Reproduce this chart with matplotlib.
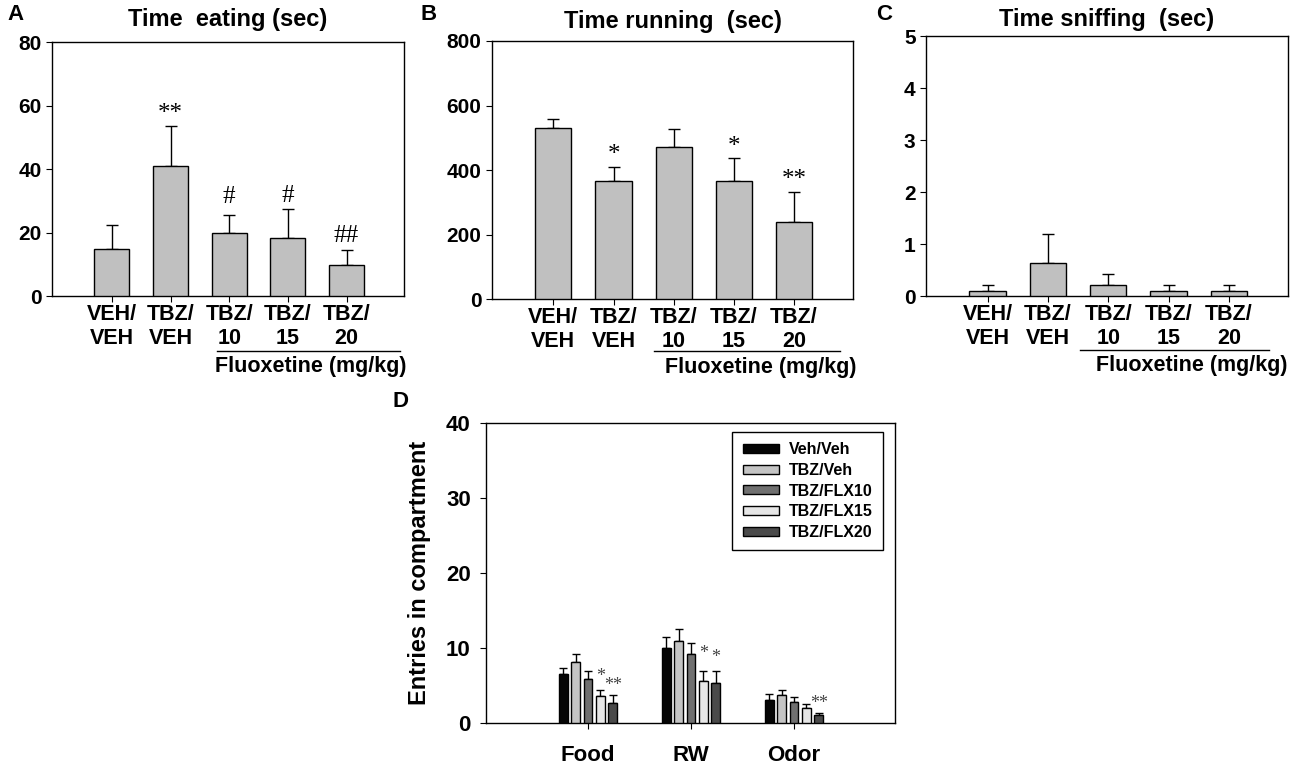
import matplotlib
matplotlib.use('Agg')
import matplotlib.pyplot as plt
import numpy as np
from matplotlib.transforms import blended_transform_factory

plt.rcParams['font.family'] = ['Liberation Sans', 'DejaVu Sans']
plt.rcParams['font.weight'] = 'bold'
plt.rcParams['axes.linewidth'] = 1.0

# ---------------- data ----------------
groups_abc = ['VEH/\nVEH', 'TBZ/\nVEH', 'TBZ/\n10', 'TBZ/\n15', 'TBZ/\n20']

eat_mean = [14.9, 41.0, 19.8, 18.4, 9.9]
eat_err = [7.5, 12.4, 5.8, 8.9, 4.7]
eat_marks = ['', '**', '#', '#', '##']
eat_mark_y = [0, 57.3, 31.1, 31.6, 18.9]

run_mean = [531, 366, 471, 365, 240]
run_err = [26, 42, 57, 72, 91]
run_marks = ['', '*', '', '*', '**']
run_mark_y = [0, 446, 0, 472, 369]

sniff_mean = [0.10, 0.64, 0.21, 0.10, 0.10]
sniff_err = [0.11, 0.56, 0.21, 0.11, 0.11]
sniff_marks = ['', '', '', '', '']
sniff_mark_y = [0, 0, 0, 0, 0]

compartments = ['Food', 'RW', 'Odor']
d_series = ['Veh/Veh', 'TBZ/Veh', 'TBZ/FLX10', 'TBZ/FLX15', 'TBZ/FLX20']
d_colors = ['#050505', '#c4c4c4', '#707070', '#e6e6e6', '#4a4a4a']
veh_veh = [6.5, 10.0, 3.1]
veh_veh_err = [0.9, 1.45, 0.8]
tbz_veh = [8.15, 10.9, 3.8]
tbz_veh_err = [1.05, 1.6, 0.6]
tbz_flx10 = [5.9, 9.2, 2.85]
tbz_flx10_err = [1.0, 1.5, 0.65]
tbz_flx15 = [3.6, 5.6, 2.05]
tbz_flx15_err = [0.8, 1.3, 0.45]
tbz_flx20 = [2.7, 5.4, 1.1]
tbz_flx20_err = [1.1, 1.5, 0.3]
d_means = [veh_veh, tbz_veh, tbz_flx10, tbz_flx15, tbz_flx20]
d_errs = [veh_veh_err, tbz_veh_err, tbz_flx10_err, tbz_flx15_err, tbz_flx20_err]
d_marks = [['', '', ''], ['', '', ''], ['', '', ''], ['*', '*', ''], ['**', '*', '**']]
d_mark_y = [[0, 0, 0], [0, 0, 0], [0, 0, 0], [6.15, 9.2, 0], [4.95, 8.7, 2.6]]

# ---------------- figure ----------------
fig = plt.figure(figsize=(13, 7.67), dpi=100)

def fpos(l, t, r, b):
    W, H = 1300, 767
    return [l / W, 1 - b / H, (r - l) / W, (b - t) / H]

TICK_FS = 15
XT_FS = 15.5
TITLE_FS = 17
MARK_FS = 18

def panel(rect, means, errs, marks, mark_y, ylim, yticks, title, title_pad, letter,
          line_x, line_y, txt_x, txt_y, letter_xy):
    ax = fig.add_axes(rect)
    x = np.arange(len(means))
    ax.bar(x, means, width=0.6, color='#c0c0c0', edgecolor='black', linewidth=1.0, zorder=3)
    ax.errorbar(x, means, yerr=[np.zeros(len(errs)), errs], fmt='none', ecolor='black',
                elinewidth=1.0, capsize=4, capthick=1.0, zorder=2)
    for xi, m, yy in zip(x, marks, mark_y):
        if m:
            ax.text(xi, yy, m, ha='center', va='center', fontsize=MARK_FS,
                    family=['Liberation Serif', 'DejaVu Serif'], fontweight='normal', zorder=4)
    ax.set_xlim(-1.02, 4.98)
    ax.set_ylim(*ylim)
    ax.set_yticks(yticks)
    ax.set_xticks(x)
    ax.set_xticklabels(groups_abc, fontsize=XT_FS, fontweight='bold', linespacing=1.15)
    ax.tick_params(axis='y', labelsize=TICK_FS, direction='out', length=4)
    ax.tick_params(axis='x', direction='out', length=4, pad=2)
    for lab in ax.get_yticklabels():
        lab.set_fontweight('bold')
    ax.set_title(title, fontsize=TITLE_FS, fontweight='bold', pad=title_pad)
    tr = blended_transform_factory(ax.transData, ax.transAxes)
    ax.plot(line_x, [line_y, line_y], color='black', lw=1.0, transform=tr, clip_on=False)
    ax.text(txt_x, txt_y, 'Fluoxetine (mg/kg)', transform=tr, ha='center', va='center',
            fontsize=XT_FS, fontweight='bold')
    fig.text(letter_xy[0] / 1300, 1 - letter_xy[1] / 767, letter, fontsize=16,
             fontweight='bold', ha='left', va='center')
    return ax

panel(fpos(52, 42, 404, 296), eat_mean, eat_err, eat_marks, eat_mark_y, (0, 80),
      [0, 20, 40, 60, 80], 'Time  eating (sec)', 11.5, 'A',
      [1.79, 4.92], -0.2165, 3.39, -0.276, (7, 14))
panel(fpos(492, 41, 853, 299), run_mean, run_err, run_marks, run_mark_y, (0, 800),
      [0, 200, 400, 600, 800], 'Time running  (sec)', 9.5, 'B',
      [1.68, 4.77], -0.2016, 3.45, -0.264, (420, 14))
panel(fpos(926, 36, 1288, 296), sniff_mean, sniff_err, sniff_marks, sniff_mark_y, (0, 5),
      [0, 1, 2, 3, 4, 5], 'Time sniffing  (sec)', 7, 'C',
      [1.54, 4.66], -0.208, 3.39, -0.269, (876, 14))

# ---------------- panel D ----------------
axd = fig.add_axes(fpos(486, 423, 895, 723))
xc = np.arange(len(compartments))
step = 0.12
bw = 0.084
for i, (name, col, mv, ev, mk, my) in enumerate(zip(d_series, d_colors, d_means, d_errs, d_marks, d_mark_y)):
    xs = xc + (i - 2) * step
    axd.bar(xs, mv, width=bw, color=col, edgecolor='black', linewidth=1.0, label=name, zorder=3)
    axd.errorbar(xs, mv, yerr=[np.zeros(len(ev)), ev], fmt='none', ecolor='black',
                 elinewidth=1.0, capsize=3, capthick=1.0, zorder=2)
    for xx, m, yy in zip(xs, mk, my):
        if m:
            axd.text(xx, yy, m, ha='center', va='center', fontsize=13, color='#444444',
                     family=['Liberation Serif', 'DejaVu Serif'], fontweight='normal', zorder=4)
axd.set_xlim(-0.99, 2.98)
axd.set_ylim(0, 40)
axd.set_yticks([0, 10, 20, 30, 40])
axd.set_xticks(xc)
axd.set_xticklabels(compartments, fontsize=16, fontweight='bold')
axd.tick_params(axis='y', labelsize=16, direction='out', length=4, pad=7)
axd.tick_params(axis='x', direction='out', length=4, pad=12)
for lab in axd.get_yticklabels():
    lab.set_fontweight('bold')
axd.set_ylabel('Entries in compartment', fontsize=17, fontweight='bold', labelpad=11)
leg = axd.legend(loc='upper right', bbox_to_anchor=(0.971, 0.97), borderaxespad=0,
                 fontsize=11.5, handlelength=2.3, handleheight=0.5, labelspacing=0.35,
                 handletextpad=0.6, borderpad=0.65, fancybox=False, framealpha=1,
                 edgecolor='black')
leg.get_frame().set_linewidth(1.0)
for t in leg.get_texts():
    t.set_fontweight('bold')
fig.text(392 / 1300, 1 - 402 / 767, 'D', fontsize=16, fontweight='bold', ha='left', va='center')

fig.savefig('out.png', dpi=100)
